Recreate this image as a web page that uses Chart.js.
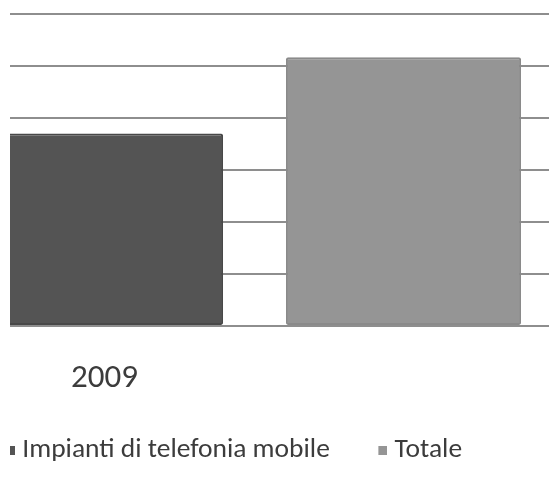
<!DOCTYPE html>
<html>
<head>
<meta charset="utf-8">
<script src="https://cdn.jsdelivr.net/npm/chart.js@4/dist/chart.umd.min.js"></script>
<style>
  html, body { margin: 0; padding: 0; background: #fff; overflow: hidden; }
  #wrap { position: absolute; left: 0; top: 0; width: 549px; height: 490px; overflow: hidden; background: #fff; }
  #frame { position: absolute; left: 10px; top: 0; width: 539px; height: 490px; overflow: hidden; }
  #box { position: absolute; left: -70px; top: 0; width: 620px; height: 490px; }
</style>
</head>
<body>
<div id="wrap"><div id="frame"><div id="box"><canvas id="myChart"></canvas></div></div></div>
<script>
var years = ["2009"];
var seriesNames = ["Impianti di telefonia mobile", "Totale"];
var mobileValues = [3.7];
var totalValues = [5.17];
var yMax = 6;
var fills = ['#545454', '#959595'];
var edges = ['#484848', '#8a8a8a'];

// small square markers sitting close to the legend text
function legendMark(color) {
    var c = document.createElement('canvas');
    c.width = 22;
    c.height = 9;
    var g = c.getContext('2d');
    g.fillStyle = color;
    g.fillRect(13, 0, 9, 9);
    return c;
}
var legendMarks = fills.map(legendMark);

// nudge the legend block after layout
const legendShift = {
    id: 'legendShift',
    afterLayout: function (chart) {
        var lg = chart.legend;
        lg.left += 1;
        lg.right += 1;
        lg.top -= 16;
        lg.bottom -= 16;
    }
};

const ctx = document.getElementById('myChart').getContext('2d');
const myChart = new Chart(ctx, {
    type: 'bar',
    data: {
        labels: years,
        datasets: [{
            label: seriesNames[0],
            data: mobileValues,
            backgroundColor: fills[0],
            borderColor: edges[0],
            borderWidth: 2,
            borderRadius: 2,
            borderSkipped: false,
            barPercentage: 0.789,
            categoryPercentage: 1.0
        }, {
            label: seriesNames[1],
            data: totalValues,
            backgroundColor: fills[1],
            borderColor: edges[1],
            borderWidth: 2,
            borderRadius: 2,
            borderSkipped: false,
            barPercentage: 0.789,
            categoryPercentage: 1.0
        }]
    },
    options: {
        responsive: true,
        maintainAspectRatio: false,
        animation: false,
        layout: { padding: { left: 16.5, right: 7.5, top: 14, bottom: 0 } },
        plugins: {
            tooltip: { enabled: false },
            legend: {
                position: 'bottom',
                align: 'start',
                labels: {
                    color: '#3c3c3c',
                    font: { family: 'Carlito, Lato, sans-serif', size: 27.5 },
                    usePointStyle: true,
                    boxWidth: 9,
                    boxHeight: 9,
                    padding: 42,
                    generateLabels: function (chart) {
                        var items = Chart.defaults.plugins.legend.labels.generateLabels(chart);
                        items.forEach(function (it, i) { it.pointStyle = legendMarks[i]; });
                        return items;
                    }
                }
            }
        },
        scales: {
            x: {
                grid: { display: false },
                border: { display: false },
                ticks: {
                    color: '#3c3c3c',
                    font: { family: 'Carlito, Lato, sans-serif', size: 33 },
                    padding: 25,
                    labelOffset: -150
                },
                afterFit: function (scale) { scale.height = 84.5; }
            },
            y: {
                min: 0,
                max: yMax,
                display: true,
                ticks: { display: false, stepSize: 1 },
                border: { display: false },
                grid: { color: '#8e8e8e', lineWidth: 2, drawTicks: false },
                afterFit: function (scale) { scale.width = 0; }
            }
        }
    },
    plugins: [legendShift]
});
</script>
</body>
</html>
